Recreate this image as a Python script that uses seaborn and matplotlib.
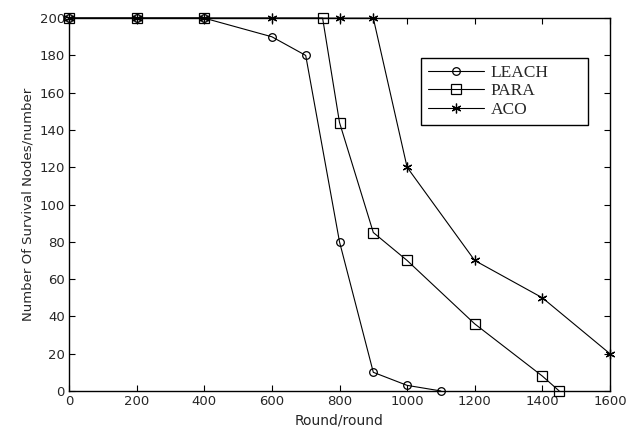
import matplotlib
matplotlib.use('Agg')
import matplotlib.pyplot as plt
import numpy as np
import pandas as pd
import seaborn as sns

leach_x = [0, 200, 400, 600, 700, 800, 900, 1000, 1100]
leach_y = [200, 200, 200, 190, 180, 80, 10, 3, 0]
para_x = [0, 200, 400, 750, 800, 900, 1000, 1200, 1400, 1450]
para_y = [200, 200, 200, 200, 144, 85, 70, 36, 8, 0]
aco_x = [0, 200, 400, 600, 800, 900, 1000, 1200, 1400, 1600]
aco_y = [200, 200, 200, 200, 200, 200, 120, 70, 50, 20]

x_ticks = [0, 200, 400, 600, 800, 1000, 1200, 1400, 1600]
y_ticks = [0, 20, 40, 60, 80, 100, 120, 140, 160, 180, 200]

sns.set_style('ticks')
plt.rcParams['font.family'] = ['DejaVu Sans']

fig = plt.figure(figsize=(6.34, 4.32), dpi=100)
ax = fig.add_axes([0.109, 0.095, 0.853, 0.863])

# asterisk marker for ACO, like the matlab '*'
series = [
    ('LEACH', leach_x, leach_y, 'o', 5.5),
    ('PARA', para_x, para_y, 's', 6.5),
    ('ACO', aco_x, aco_y, (6, 2, 0), 7),
]
for name, xs, ys, mk, ms in series:
    df = pd.DataFrame({'x': xs, 'y': ys})
    sns.lineplot(data=df, x='x', y='y', ax=ax, color='black', linewidth=0.8,
                 marker=mk, markersize=ms, markerfacecolor='none',
                 markeredgecolor='black', markeredgewidth=0.9, label=name,
                 sort=False, clip_on=False)

ax.set_xlim(0, 1600)
ax.set_ylim(0, 200)
ax.set_xticks(x_ticks)
ax.set_yticks(y_ticks)
ax.tick_params(direction='in', length=4, width=0.8, labelsize=9.5,
               top=True, right=True, color='black', pad=3)
for s in ax.spines.values():
    s.set_visible(True)
    s.set_color('black')
    s.set_linewidth(1.0)

ax.set_xlabel('Round/round', fontsize=10)
ax.set_ylabel('Number Of Survival Nodes/number', fontsize=9.5, labelpad=4)

leg = ax.legend(loc='upper left', bbox_to_anchor=(0.651, 0.5, 0.309, 0.393),
                mode='expand', fancybox=False,
                edgecolor='black', framealpha=1, handlelength=3.2,
                prop={'family': 'Liberation Serif', 'size': 12.5},
                borderpad=0.4, labelspacing=0.12, handletextpad=0.4,
                borderaxespad=0)
leg.get_frame().set_linewidth(1.0)

fig.savefig('out.png', dpi=100, facecolor='white')
